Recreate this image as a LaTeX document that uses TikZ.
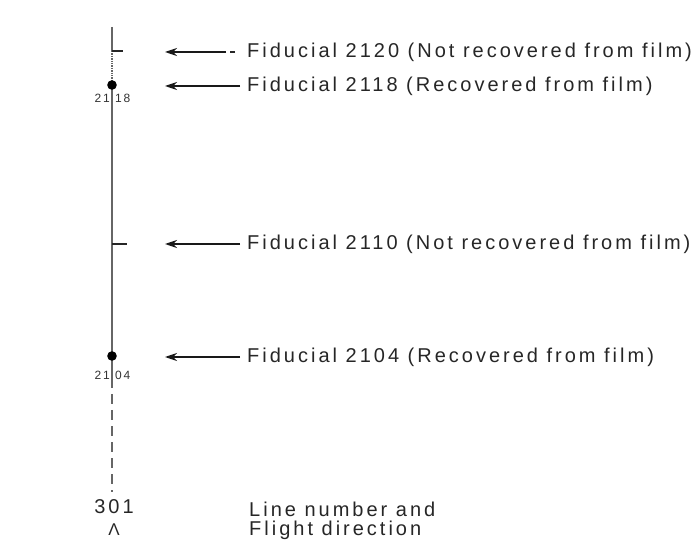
\documentclass[tikz,border=0pt]{standalone}
\usepackage{fontspec}
\setmainfont{Liberation Sans}[LetterSpace=15]
\usetikzlibrary{arrows.meta}
\begin{document}
\begin{tikzpicture}[x=1pt,y=-1pt,
  lab/.style={anchor=west,inner sep=0pt,font=\fontsize{20}{22}\selectfont,text=black!85},
  small/.style={inner sep=0pt,font=\fontsize{12}{13}\selectfont,text=black!80},
  arr/.style={-{Stealth[length=12pt,width=8pt]},line width=1.3pt,black!90},
  axis/.style={line width=1.4pt,black!60},
  tick/.style={line width=1.2pt,black!85}]
\useasboundingbox (0,0) rectangle (697,540);
% vertical line
\coordinate (top) at (112,27);
\coordinate (t1) at (112,51);
\coordinate (t1e) at (123,51);
\coordinate (d1) at (112,85);
\coordinate (t2) at (112,244);
\coordinate (t2e) at (127,244);
\coordinate (d2) at (112,356);
\coordinate (sol) at (112,378);
\coordinate (bot) at (112,492);
\draw[axis] (top) -- (t1);
\draw[axis,densely dotted] (t1) -- (d1);
\draw[axis] (d1) -- (sol);
\draw[axis,dash pattern=on 10pt off 6pt] (sol) -- (bot);
\draw[tick] (t1) -- (t1e);
\draw[tick] (t2) -- (t2e);
\fill[black] (d1) circle (4.8);
\fill[black] (d2) circle (4.8);
\node[small,anchor=east] (l1a) at (110,98) {21};
\node[small,anchor=west] (l1b) at (115,98) {18};
\node[small,anchor=east] (l2a) at (110,375) {21};
\node[small,anchor=west] (l2b) at (115,375) {04};
% labels
\node[lab] (f1) at (247,52) {Fiducial 2120 (Not recovered from film)};
\node[lab] (f2) at (247,86) {Fiducial 2118 (Recovered from film)};
\node[lab] (f3) at (247,244) {Fiducial 2110 (Not recovered from film)};
\node[lab] (f4) at (247,357) {Fiducial 2104 (Recovered from film)};
\coordinate (a1) at (165,52);
\coordinate (a2) at (165,86);
\coordinate (a3) at (165,244);
\coordinate (a4) at (165,357);
\coordinate (g1) at (226,52);
\draw[arr] (g1) -- (a1);
\draw[line width=1.3pt,black!85] ([xshift=-12pt]f1.west) -- ([xshift=-17pt]f1.west);
\draw[arr] ([xshift=-7pt]f2.west) -- (a2);
\draw[arr] ([xshift=-7pt]f3.west) -- (a3);
\draw[arr] ([xshift=-7pt]f4.west) -- (a4);
% bottom
\node[lab,anchor=center] (n301) at (114,507) {301};
\node[lab,anchor=center,font=\fontsize{17}{18}\selectfont] (dir) at (114,530) {Λ};
\node[lab] (ln1) at (249,509) {Line number and};
\node[lab] (ln2) at (249,530) {Flight direction};
\end{tikzpicture}
\end{document}
